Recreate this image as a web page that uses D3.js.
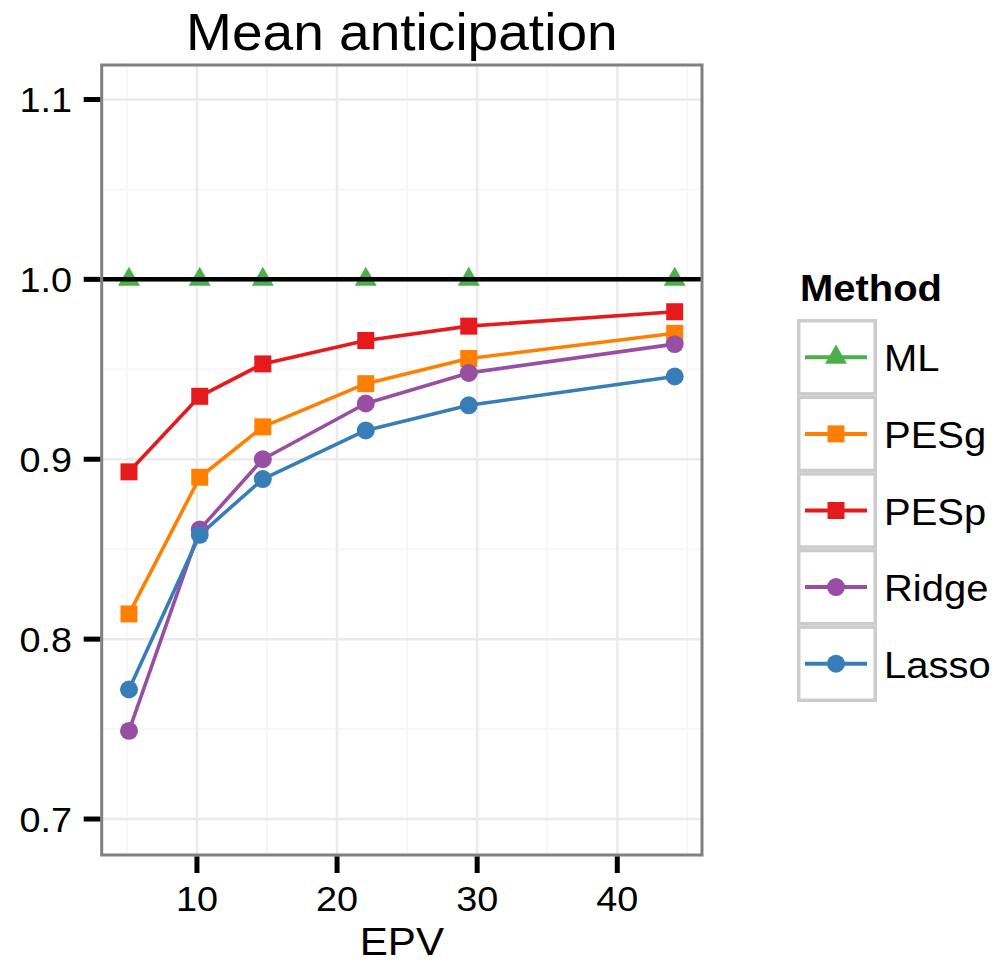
<!DOCTYPE html>
<html><head><meta charset="utf-8">
<script src="https://cdn.jsdelivr.net/npm/d3@7"></script>
<style>html,body{margin:0;padding:0;background:#fff}svg{display:block}text{font-family:"Liberation Sans",Arial,sans-serif}</style>
</head><body>
<script>
const epv = [5.15, 10.2, 14.7, 22.05, 29.4, 44.1];
const methods = ["ML", "PESg", "PESp", "Ridge", "Lasso"];
const ML    = [1.000, 1.000, 1.000, 1.000, 1.000, 1.000];
const PESg  = [0.814, 0.890, 0.918, 0.942, 0.956, 0.970];
const PESp  = [0.893, 0.935, 0.953, 0.966, 0.974, 0.982];
const Ridge = [0.749, 0.861, 0.900, 0.931, 0.948, 0.964];
const Lasso = [0.772, 0.858, 0.889, 0.916, 0.930, 0.946];
const xTicks = [10, 20, 30, 40];
const yTicks = [0.7, 0.8, 0.9, 1.0, 1.1];
const xMinor = [5, 15, 25, 35, 45];
const yMinor = [0.75, 0.85, 0.95, 1.05];
const refLine = 1.0;

const seriesVals = {ML, PESg, PESp, Ridge, Lasso};
const colors = {ML:"#4DAF4A", PESg:"#FF7F00", PESp:"#E41A1C", Ridge:"#984EA3", Lasso:"#377EB8"};
const shapes = {ML:d3.symbolTriangle, PESg:d3.symbolSquare, PESp:d3.symbolSquare, Ridge:d3.symbolCircle, Lasso:d3.symbolCircle};
const sizes = {ML:210, PESg:289, PESp:289, Ridge:254, Lasso:254};

const W = 1002, H = 963;
const svg = d3.select("body").append("svg").attr("width", W).attr("height", H);

const L = 101.7, R = 702, T = 63.5, B = 855;
const ext = d3.extent(epv), pad = (ext[1]-ext[0])*0.05;
const x = d3.scaleLinear().domain([ext[0]-pad, ext[1]+pad]).range([L, R]);
const y = d3.scaleLinear().domain([0.68, 1.12]).range([B, T]);
const SX = 1.08;

// grid
const g = svg.append("g");
g.selectAll(".xmin").data(xMinor).join("line").attr("x1", d=>x(d)).attr("x2", d=>x(d)).attr("y1", T).attr("y2", B).attr("stroke", "#f7f7f7").attr("stroke-width", 2);
g.selectAll(".ymin").data(yMinor).join("line").attr("y1", d=>y(d)).attr("y2", d=>y(d)).attr("x1", L).attr("x2", R).attr("stroke", "#f7f7f7").attr("stroke-width", 2);
g.selectAll(".xmaj").data(xTicks).join("line").attr("x1", d=>x(d)).attr("x2", d=>x(d)).attr("y1", T).attr("y2", B).attr("stroke", "#ebebeb").attr("stroke-width", 2.5);
g.selectAll(".ymaj").data(yTicks).join("line").attr("y1", d=>y(d)).attr("y2", d=>y(d)).attr("x1", L).attr("x2", R).attr("stroke", "#ebebeb").attr("stroke-width", 2.5);

// lines
const line = d3.line().x((d,i)=>x(epv[i])).y(d=>y(d));
methods.forEach(m => {
  svg.append("path").attr("d", line(seriesVals[m])).attr("fill", "none").attr("stroke", colors[m]).attr("stroke-width", 3.6).attr("stroke-linejoin", "round");
});
methods.forEach(m => {
  svg.append("g").selectAll("path").data(seriesVals[m]).join("path")
    .attr("transform", (d,i)=>`translate(${x(epv[i])},${y(d)})`)
    .attr("d", d3.symbol().type(shapes[m]).size(sizes[m])).attr("fill", colors[m]);
});

// reference line
svg.append("line").attr("x1", L).attr("x2", R).attr("y1", y(refLine)).attr("y2", y(refLine)).attr("stroke", "#000").attr("stroke-width", 4.5);

// panel border
svg.append("rect").attr("x", L).attr("y", T+1.5).attr("width", R-L).attr("height", B-T-1.5).attr("fill", "none").attr("stroke", "#808080").attr("stroke-width", 3);

// axes ticks
svg.selectAll(".yt").data(yTicks).join("line").attr("x1", L-18).attr("x2", L-1.5).attr("y1", d=>y(d)).attr("y2", d=>y(d)).attr("stroke", "#000").attr("stroke-width", 5);
svg.selectAll(".xt").data(xTicks).join("line").attr("y1", B+1.5).attr("y2", B+18).attr("x1", d=>x(d)).attr("x2", d=>x(d)).attr("stroke", "#000").attr("stroke-width", 5);

function txt(t, px, py, size, anchor, weight) {
  return svg.append("text").attr("transform", `translate(${px},${py}) scale(${SX},1)`)
    .attr("text-anchor", anchor).attr("font-size", size).attr("font-weight", weight||"normal").attr("fill", "#000").text(t);
}
yTicks.forEach(v => txt(d3.format(".1f")(v), 72, y(v)+13, 35, "end"));
xTicks.forEach(v => txt(String(v), x(v), 911, 35, "middle"));
txt("EPV", (L+R)/2, 955, 39, "middle");
txt("Mean anticipation", (L+R)/2, 50, 51, "middle");

// legend
txt("Method", 800, 301, 37, "start", "bold");
const rowTop = 319, rowH = 76.6, kx0 = 797, kx1 = 877;
methods.forEach((m, i) => {
  const top = rowTop + i*rowH, cy = top + rowH/2;
  svg.append("rect").attr("x", kx0+1.75).attr("y", top+1.75).attr("width", kx1-kx0-3.5).attr("height", rowH-3.5)
    .attr("fill", "#fff").attr("stroke", "#cccccc").attr("stroke-width", 3.5);
  svg.append("line").attr("x1", kx0+8).attr("x2", kx1-10).attr("y1", cy).attr("y2", cy).attr("stroke", colors[m]).attr("stroke-width", 4);
  svg.append("path").attr("transform", `translate(${(kx0+kx1)/2-1},${cy})`).attr("d", d3.symbol().type(shapes[m]).size(sizes[m])).attr("fill", colors[m]);
  txt(m, 884, cy+14, 37, "start");
});
</script>
</body></html>
